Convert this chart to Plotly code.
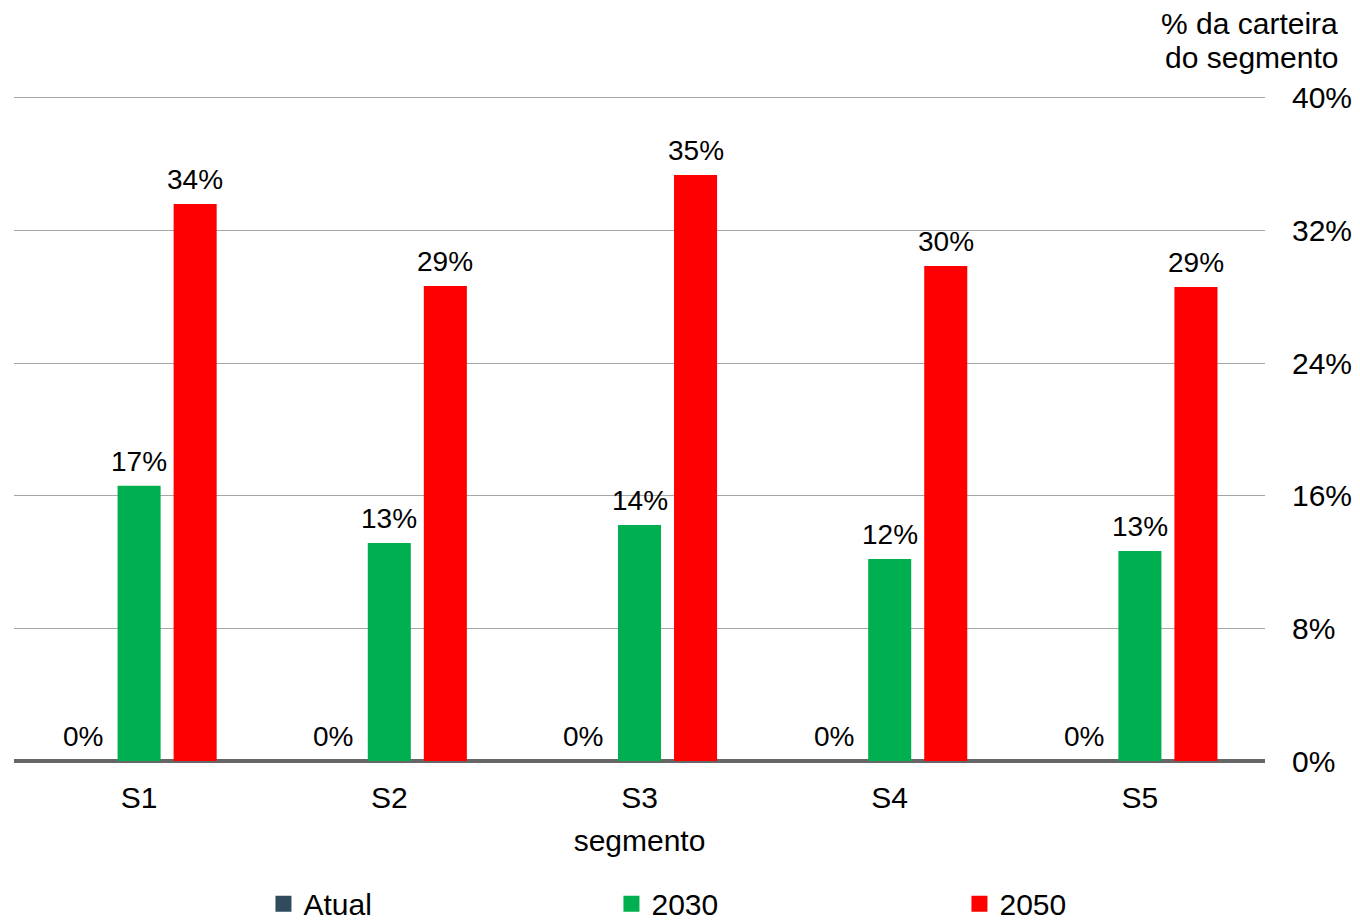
import plotly.graph_objects as go

categories = ["S1", "S2", "S3", "S4", "S5"]
atual = [0, 0, 0, 0, 0]
v2030 = [0.166, 0.1315, 0.1424, 0.1219, 0.1267]
v2050 = [0.336, 0.2866, 0.3535, 0.2986, 0.286]
y_ticks = [0, 0.08, 0.16, 0.24, 0.32, 0.40]
series = [("Atual", atual, "#2F4B5C"), ("2030", v2030, "#00B050"), ("2050", v2050, "#FF0000")]

FONT = "Liberation Sans, Arial, sans-serif"
BARGAP = 0.328
PLOT_W = 1360 - 14 - 95
SLOT = PLOT_W / len(categories) * (1 - BARGAP) / len(series)

fig = go.Figure()
annotations = []
for i, (name, vals, col) in enumerate(series):
    fig.add_trace(go.Bar(
        x=categories, y=vals, name=name, marker=dict(color=col, line=dict(width=0)),
        showlegend=False, hoverinfo="x+y",
    ))
    for c, v in zip(categories, vals):
        annotations.append(dict(
            x=c, y=v, xref="x", yref="y", text=f"{v:.0%}", showarrow=False,
            xanchor="center", yanchor="bottom", yshift=7, xshift=(i - 1) * SLOT,
            font=dict(size=28, family=FONT, color="#000000"),
        ))
for name, vals, col in series:
    fig.add_trace(go.Scatter(
        x=[None], y=[None], mode="markers", name=name,
        marker=dict(symbol="square", size=17, color=col),
    ))

annotations += [
    dict(text="% da carteira", xref="paper", yref="paper",
         x=1.0, xanchor="right", y=1.0, yanchor="middle", yshift=73,
         xshift=75, showarrow=False, font=dict(size=30, family=FONT)),
    dict(text="do segmento", xref="paper", yref="paper",
         x=1.0, xanchor="right", y=1.0, yanchor="middle", yshift=39,
         xshift=75, showarrow=False, font=dict(size=30, family=FONT)),
]

fig.update_layout(
    width=1360, height=920,
    margin=dict(l=14, r=95, t=96, b=159, autoexpand=False),
    paper_bgcolor="white", plot_bgcolor="white",
    font=dict(family=FONT, size=30, color="#000000"),
    barmode="group", bargap=BARGAP, bargroupgap=0.232,
    showlegend=True,
    legend=dict(orientation="h", x=0.1994, xanchor="left",
                yref="container", y=0.046, yanchor="top",
                entrywidth=303, entrywidthmode="pixels", itemsizing="trace",
                font=dict(size=30, family=FONT), tracegroupgap=0),
    xaxis=dict(showgrid=False, ticks="", ticklabelstandoff=16, automargin=False,
               title=dict(text="segmento", standoff=16, font=dict(size=30)),
               tickfont=dict(size=30), showline=False),
    yaxis=dict(side="right", range=[0, 0.4012], tickvals=y_ticks, tickformat=".0%",
               showgrid=True, gridcolor="#A6A6A6", gridwidth=1, automargin=False,
               zeroline=True, zerolinecolor="#666666", zerolinewidth=4,
               ticks="", ticklabelstandoff=26, tickfont=dict(size=30)),
    annotations=annotations,
)
fig.write_html("out.html")
